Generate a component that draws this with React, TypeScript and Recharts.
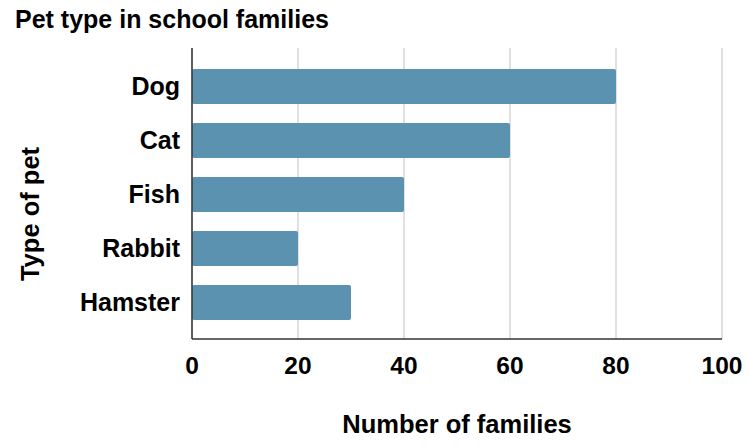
import React from "react";
import { BarChart, Bar, XAxis, YAxis, CartesianGrid, Label } from "recharts";

const categories = ["Dog", "Cat", "Fish", "Rabbit", "Hamster"];
const families = [80, 60, 40, 20, 30];
const xTicks = [0, 20, 40, 60, 80, 100];

const title = "Pet type in school families";
const xTitle = "Number of families";
const yTitle = "Type of pet";

const data = categories.map((name, i) => ({ name, value: families[i] }));

const FONT = "'Liberation Sans', Arial, sans-serif";
const BAR_COLOR = "#5a92af";

export default function App() {
  return (
    <div style={{ position: "absolute", left: 0, top: 0, width: 750, height: 448, background: "#fff" }}>
      <svg width={750} height={40} style={{ position: "absolute", left: 0, top: 0 }}>
        <text x={15} y={28} fontFamily={FONT} fontWeight="bold" fontSize={25} fill="#000">
          {title}
        </text>
      </svg>
      <div style={{ position: "absolute", left: 0, top: 0 }}>
        <BarChart
          width={750}
          height={448}
          data={data}
          layout="vertical"
          margin={{ top: 48, right: 28, bottom: 0, left: 0 }}
        >
          <CartesianGrid horizontal={false} vertical={true} stroke="#d6d6d6" strokeWidth={1.5} />
          <XAxis
            type="number"
            domain={[0, 100]}
            ticks={xTicks}
            height={109}
            tickLine={false}
            tickSize={0}
            tickMargin={18}
            axisLine={{ stroke: "#333", strokeWidth: 1.5 }}
            tick={{ fontSize: 24.5, fontWeight: "bold", fill: "#000", fontFamily: FONT }}
            interval={0}
          >
            <Label
              content={(props: any) => {
                const vb = props.viewBox || {};
                return (
                  <text
                    x={vb.x + vb.width / 2}
                    y={vb.y + 94}
                    textAnchor="middle"
                    fontFamily={FONT}
                    fontWeight="bold"
                    fontSize={25.5}
                    fill="#000"
                  >
                    {xTitle}
                  </text>
                );
              }}
            />
          </XAxis>
          <YAxis
            type="category"
            dataKey="name"
            width={192}
            tickLine={false}
            tickSize={0}
            tickMargin={12}
            padding={{ top: 11, bottom: 10 }}
            axisLine={{ stroke: "#333", strokeWidth: 1.5 }}
            tick={{ fontSize: 25, fontWeight: "bold", fill: "#000", fontFamily: FONT }}
            interval={0}
          >
            <Label
              content={(props: any) => {
                const vb = props.viewBox || {};
                const cx = 30;
                const cy = vb.y + 166;
                return (
                  <text
                    x={cx}
                    y={cy}
                    transform={`rotate(-90, ${cx}, ${cy})`}
                    textAnchor="middle"
                    dominantBaseline="central"
                    fontFamily={FONT}
                    fontWeight="bold"
                    fontSize={25.5}
                    fill="#000"
                  >
                    {yTitle}
                  </text>
                );
              }}
            />
          </YAxis>
          <Bar dataKey="value" fill={BAR_COLOR} barSize={35} radius={2} isAnimationActive={false} />
        </BarChart>
      </div>
    </div>
  );
}
